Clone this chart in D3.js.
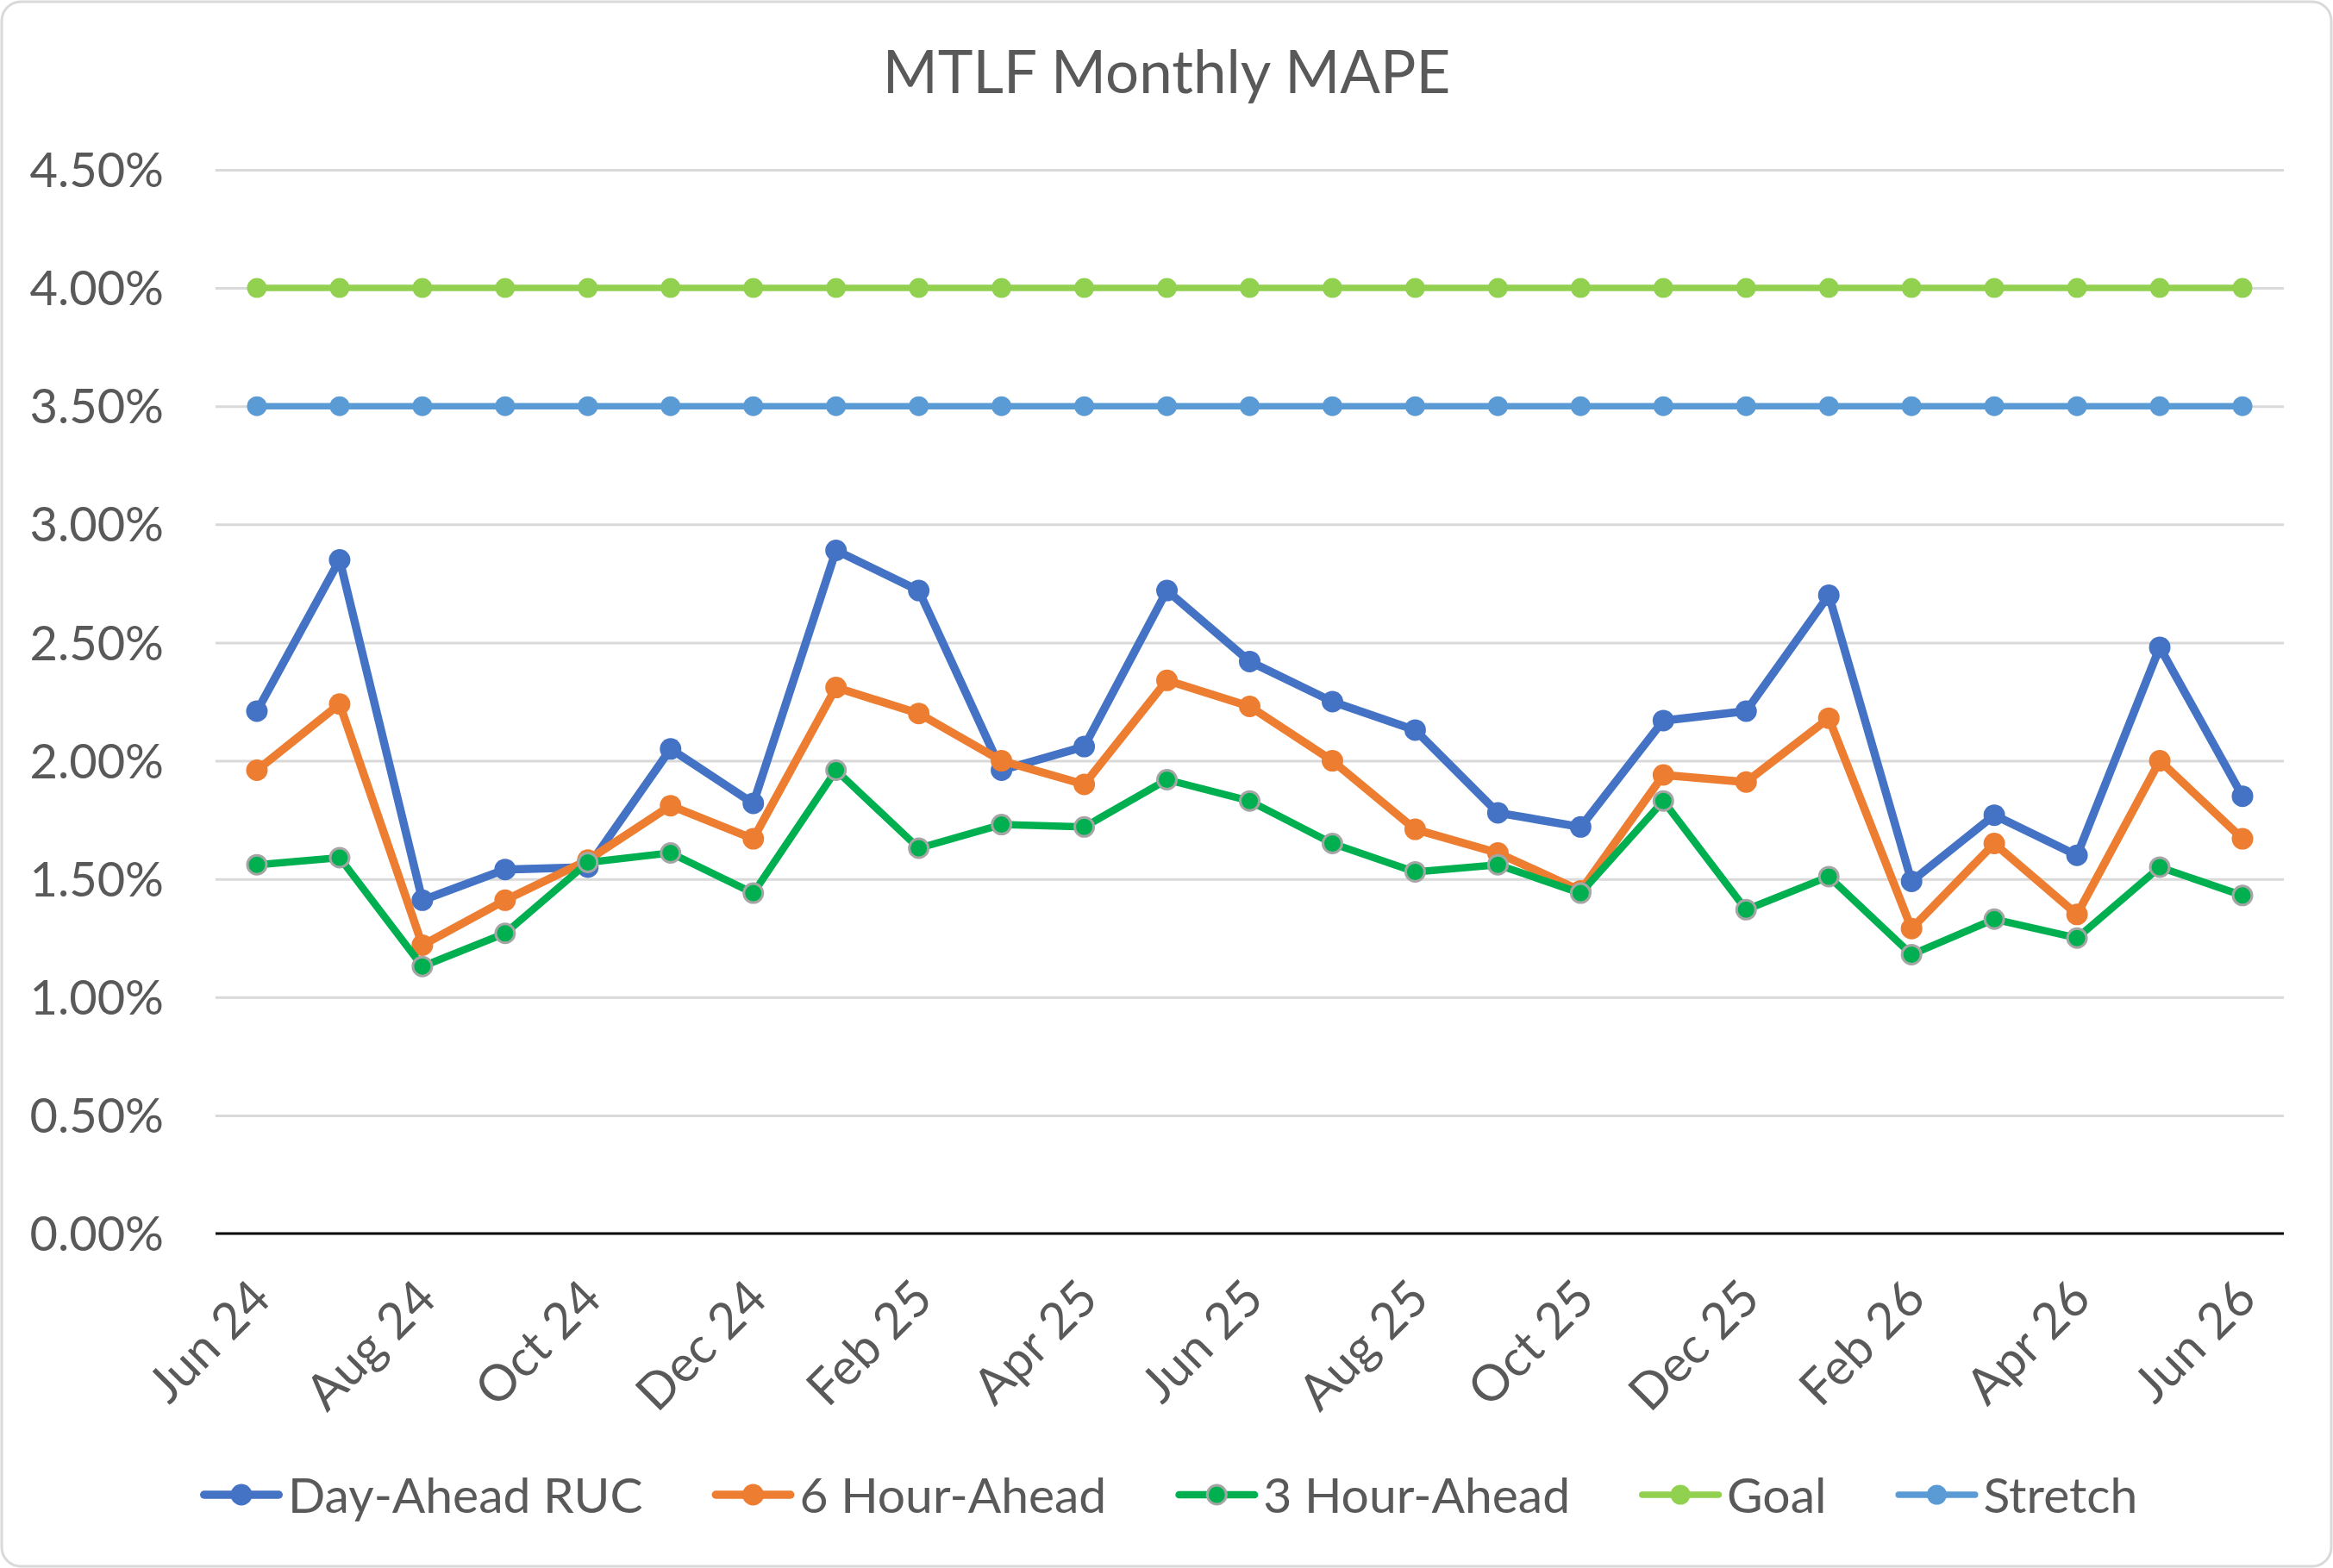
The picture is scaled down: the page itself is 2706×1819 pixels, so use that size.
<!DOCTYPE html>
<html lang="en">
<head>
  <meta charset="UTF-8">
  <title>MTLF Monthly MAPE</title>
  <script src="https://d3js.org/d3.v7.min.js"></script>
  <style>
    body {
      margin: 0;
      padding: 0;
      background: #fff;
      font-family: "Lato", "Open Sans", sans-serif;
    }
    .grid line { stroke: #d9d9d9; stroke-width: 3; }
    .tick-label { fill: #595959; font-size: 56px; }
    .x-label { fill: #595959; font-size: 58px; }
    .title { fill: #595959; font-size: 69px; }
    .legend-text { fill: #595959; font-size: 57px; }
  </style>
</head>
<body>
  <svg id="chart" width="2706" height="1819"></svg>

  <script>
    const months = ["Jun 24","Jul 24","Aug 24","Sep 24","Oct 24","Nov 24","Dec 24",
      "Jan 25","Feb 25","Mar 25","Apr 25","May 25","Jun 25","Jul 25","Aug 25","Sep 25",
      "Oct 25","Nov 25","Dec 25","Jan 26","Feb 26","Mar 26","Apr 26","May 26","Jun 26"];

    const dayAhead = [2.21,2.85,1.41,1.54,1.55,2.05,1.82,2.89,2.72,1.96,2.06,2.72,2.42,
      2.25,2.13,1.78,1.72,2.17,2.21,2.70,1.49,1.77,1.60,2.48,1.85];
    const sixHour = [1.96,2.24,1.22,1.41,1.58,1.81,1.67,2.31,2.20,2.00,1.90,2.34,2.23,
      2.00,1.71,1.61,1.45,1.94,1.91,2.18,1.29,1.65,1.35,2.00,1.67];
    const threeHour = [1.56,1.59,1.13,1.27,1.57,1.61,1.44,1.96,1.63,1.73,1.72,1.92,1.83,
      1.65,1.53,1.56,1.44,1.83,1.37,1.51,1.18,1.33,1.25,1.55,1.43];
    const goal = months.map(() => 4.00);
    const stretch = months.map(() => 3.50);

    const yTicks = [0, 0.5, 1, 1.5, 2, 2.5, 3, 3.5, 4, 4.5];
    const xTickLabels = months.filter((m, i) => i % 2 === 0);

    const series = [
      { name: "Day-Ahead RUC", values: dayAhead, color: "#4472c4", width: 9.5, r: 12.5, stroke: null },
      { name: "6 Hour-Ahead", values: sixHour, color: "#ed7d31", width: 9.5, r: 12.5, stroke: null },
      { name: "3 Hour-Ahead", values: threeHour, color: "#00b050", width: 8.5, r: 11, stroke: "#a5a5a5" },
      { name: "Goal", values: goal, color: "#92d050", width: 7.5, r: 11.5, stroke: null },
      { name: "Stretch", values: stretch, color: "#5b9bd5", width: 7.5, r: 11.5, stroke: null }
    ];

    const W = 2706, H = 1819;
    const margin = { left: 250, right: 57, top: 197, bottom: 388 };

    const svg = d3.select("#chart");

    // outer frame
    svg.append("rect")
      .attr("x", 2).attr("y", 2)
      .attr("width", W - 4).attr("height", H - 4)
      .attr("rx", 22)
      .attr("fill", "#fff")
      .attr("stroke", "#d9d9d9")
      .attr("stroke-width", 3);

    const x = d3.scalePoint()
      .domain(months)
      .range([margin.left, W - margin.right])
      .padding(0.5);

    const y = d3.scaleLinear()
      .domain([0, 4.5])
      .range([H - margin.bottom, margin.top]);

    svg.append("text")
      .attr("class", "title")
      .attr("x", W / 2)
      .attr("y", 108)
      .attr("text-anchor", "middle")
      .text("MTLF Monthly MAPE");

    // gridlines
    svg.append("g")
      .attr("class", "grid")
      .attr("transform", `translate(${margin.left},0)`)
      .call(d3.axisLeft(y).tickValues(yTicks.slice(1)).tickSize(-(W - margin.left - margin.right)).tickFormat(""))
      .call(g => g.select(".domain").remove());

    // y labels
    svg.append("g")
      .selectAll("text")
      .data(yTicks)
      .join("text")
      .attr("class", "tick-label")
      .attr("x", 190)
      .attr("y", d => y(d))
      .attr("dy", "0.36em")
      .attr("text-anchor", "end")
      .text(d => d3.format(".2f")(d) + "%");

    // x axis line
    svg.append("line")
      .attr("x1", margin.left).attr("x2", W - margin.right)
      .attr("y1", y(0)).attr("y2", y(0))
      .attr("stroke", "#000")
      .attr("stroke-width", 3);

    // x labels
    svg.append("g")
      .selectAll("text")
      .data(xTickLabels)
      .join("text")
      .attr("class", "x-label")
      .attr("transform", d => `translate(${x(d) + 4},${y(0) + 64}) rotate(-45)`)
      .attr("text-anchor", "end")
      .attr("dy", "0.36em")
      .text(d => d);

    const line = d3.line()
      .x((d, i) => x(months[i]))
      .y(d => y(d));

    series.forEach(s => {
      const g = svg.append("g");
      g.append("path")
        .datum(s.values)
        .attr("d", line)
        .attr("fill", "none")
        .attr("stroke", s.color)
        .attr("stroke-width", s.width)
        .attr("stroke-linejoin", "round")
        .attr("stroke-linecap", "round");
      g.selectAll("circle")
        .data(s.values)
        .join("circle")
        .attr("cx", (d, i) => x(months[i]))
        .attr("cy", d => y(d))
        .attr("r", s.r)
        .attr("fill", s.color)
        .attr("stroke", s.stroke || "none")
        .attr("stroke-width", 3);
    });

    // legend
    const legend = svg.append("g").attr("transform", "translate(232,1734)");
    const lineLen = 96, textGap = 6, itemGap = 80;
    let cursor = 0;
    series.forEach(s => {
      const item = legend.append("g").attr("transform", `translate(${cursor},0)`);
      item.append("line")
        .attr("x1", s.width / 2).attr("x2", lineLen - s.width / 2)
        .attr("stroke", s.color)
        .attr("stroke-width", s.width)
        .attr("stroke-linecap", "round");
      item.append("circle")
        .attr("cx", lineLen / 2)
        .attr("r", s.r)
        .attr("fill", s.color)
        .attr("stroke", s.stroke || "none")
        .attr("stroke-width", 3);
      const t = item.append("text")
        .attr("class", "legend-text")
        .attr("x", lineLen + textGap)
        .attr("dy", "0.36em")
        .text(s.name);
      cursor += lineLen + textGap + t.node().getComputedTextLength() + itemGap;
    });
  </script>
</body>
</html>
